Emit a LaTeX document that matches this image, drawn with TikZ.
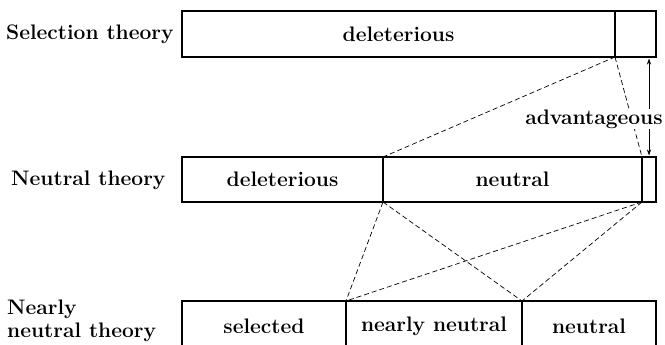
\documentclass[tikz,border=0pt]{standalone}
\usetikzlibrary{arrows.meta}
\begin{document}
\begin{tikzpicture}[x=1pt,y=-1pt,
  cell/.style={draw, line width=1.4pt, inner sep=0pt, outer sep=0pt, font=\fontsize{21}{23}\selectfont\bfseries},
  lbl/.style={inner sep=0pt, font=\fontsize{21}{23}\selectfont\bfseries},
  dsh/.style={dash pattern=on 5pt off 3pt, line width=0.7pt}]
\useasboundingbox (0,0) rectangle (665,345);
\clip (0,0) rectangle (665,345);
% row labels
\node[lbl, anchor=west] (tsel) at (6,34) {Selection theory};
\node[lbl, anchor=west] (tneu) at (11,180) {Neutral theory};
\node[lbl, anchor=west, align=left] (tnn) at (7,321) {Nearly\\neutral theory};
% selection theory
\node[cell, minimum width=433, minimum height=46] (s1) at (398.5,34) {deleterious};
\node[cell, minimum width=41, minimum height=46] (s2) at (635.5,34) {};
% neutral theory
\node[cell, minimum width=201, minimum height=45] (n1) at (282.5,179.5) {deleterious};
\node[cell, minimum width=259, minimum height=45] (n2) at (512.5,179.5) {neutral};
\node[cell, minimum width=14, minimum height=45] (n3) at (649,179.5) {};
% nearly neutral theory
\node[cell, minimum width=164, minimum height=60, anchor=north] (b1) at (264,301) {};
\node[cell, minimum width=176, minimum height=60, anchor=north] (b2) at (434,301) {};
\node[cell, minimum width=134, minimum height=60, anchor=north] (b3) at (589,301) {};
\node[lbl] (b1t) at (264,326) {selected};
\node[lbl] (b2t) at (434,326) {nearly neutral};
\node[lbl] (b3t) at (589,326) {neutral};
% dashed connectors
\draw[dsh] (s1.south east) -- (n1.north east);
\draw[dsh] (s1.south east) -- (n2.north east);
\draw[dsh] (n1.south east) -- (b1.north east);
\draw[dsh] (n1.south east) -- (b2.north east);
\draw[dsh] (n2.south east) -- (b1.north east);
\draw[dsh] (n2.south east) -- (b2.north east);
% advantageous arrow
\draw[line width=0.6pt, {Stealth[length=6pt,width=4pt]}-{Stealth[length=6pt,width=4pt]}] ([yshift=-1.5pt]s2.south -| n3.north) -- ([yshift=1.5pt]n3.north);
\node[lbl, fill=white, inner sep=1pt] (adv) at (594,119) {advantageous};
\end{tikzpicture}
\end{document}
